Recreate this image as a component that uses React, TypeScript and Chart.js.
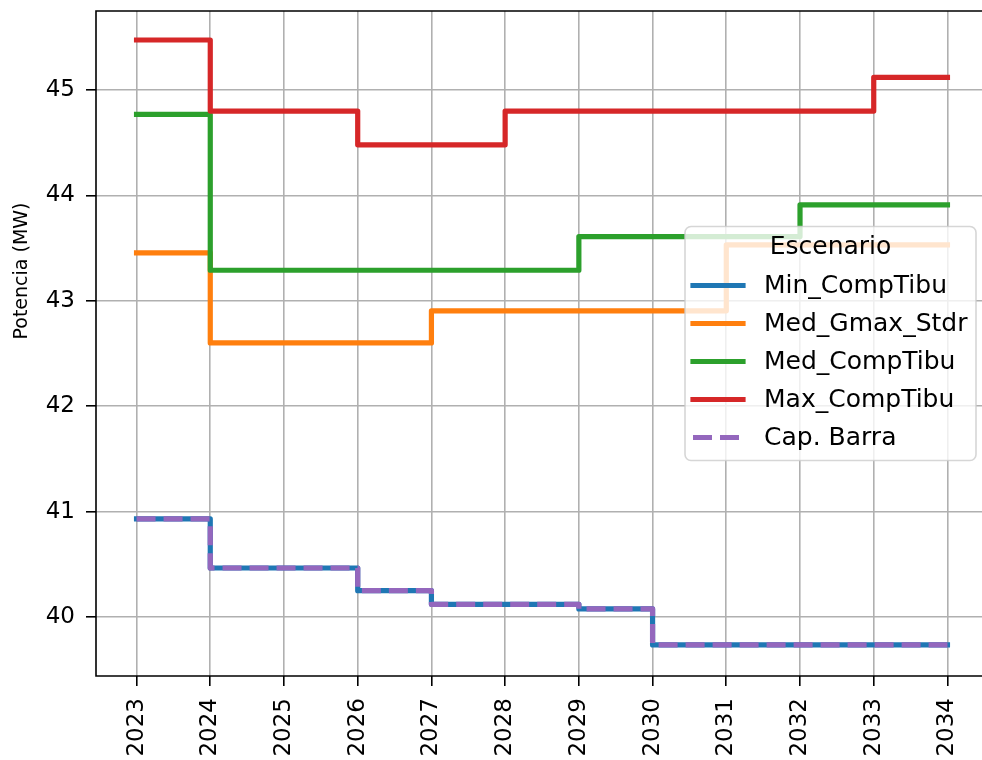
import React, { useEffect, useRef } from "react";
import { Chart, registerables } from "chart.js";

Chart.register(...registerables);

// Years on the x axis
const years = [2023, 2024, 2025, 2026, 2027, 2028, 2029, 2030, 2031, 2032, 2033, 2034];

// Power per scenario (MW), held constant until the next year (step "post")
const minCompTibu = [40.93, 40.465, 40.465, 40.25, 40.12, 40.12, 40.076, 39.735, 39.735, 39.735, 39.735, 39.735];
const medGmaxStdr = [43.455, 42.6, 42.6, 42.6, 42.905, 42.905, 42.905, 42.905, 43.53, 43.53, 43.53, 43.53];
const medCompTibu = [44.77, 43.29, 43.29, 43.29, 43.29, 43.29, 43.61, 43.61, 43.61, 43.91, 43.91, 43.91];
const maxCompTibu = [45.475, 44.8, 44.8, 44.48, 44.48, 44.8, 44.8, 44.8, 44.8, 44.8, 45.12, 45.12];
const capBarra = [40.93, 40.465, 40.465, 40.25, 40.12, 40.12, 40.076, 39.735, 39.735, 39.735, 39.735, 39.735];

const seriesNames = ["Min_CompTibu", "Med_Gmax_Stdr", "Med_CompTibu", "Max_CompTibu", "Cap. Barra"];
const seriesColors = ["#1f77b4", "#ff7f0e", "#2ca02c", "#d62728", "#9467bd"];
const yTicks = [40, 41, 42, 43, 44, 45];
const legendTitle = "Escenario";
const yAxisLabel = "Potencia (MW)";

const FONT = '"DejaVu Sans", Verdana, sans-serif';
const LINE_W = 5.2;
const DASH = [19, 8];

const toPoints = (vals: number[]) => years.map((x, i) => ({ x, y: vals[i] }));

const framePlugin = {
  id: "frameLegendLabel",
  afterDatasetsDraw(chart: any) {
    const { ctx, chartArea: ca } = chart;
    ctx.save();
    // axes frame (left, top and bottom spines; the right one lies past the page edge)
    ctx.strokeStyle = "#000";
    ctx.lineWidth = 1.6;
    ctx.beginPath();
    ctx.moveTo(ca.right + 2, ca.top);
    ctx.lineTo(ca.left, ca.top);
    ctx.lineTo(ca.left, ca.bottom);
    ctx.lineTo(ca.right + 2, ca.bottom);
    ctx.stroke();

    // legend box ("center right")
    const boxW = 291;
    const boxH = 234;
    const right = ca.right - 12;
    const left = right - boxW;
    const top = (ca.top + ca.bottom) / 2 - boxH / 2;
    ctx.globalAlpha = 0.8;
    ctx.beginPath();
    ctx.roundRect(left, top, boxW, boxH, 6);
    ctx.fillStyle = "#fff";
    ctx.fill();
    ctx.strokeStyle = "#cccccc";
    ctx.lineWidth = 1.6;
    ctx.stroke();
    ctx.globalAlpha = 1;

    ctx.font = `25px ${FONT}`;
    ctx.fillStyle = "#000";
    ctx.textBaseline = "middle";
    ctx.textAlign = "center";
    ctx.fillText(legendTitle, left + boxW / 2, top + 21);

    ctx.textAlign = "left";
    chart.data.datasets.forEach((ds: any, i: number) => {
      const y = top + 59 + i * 38;
      ctx.beginPath();
      ctx.strokeStyle = ds.borderColor;
      ctx.lineWidth = LINE_W;
      ctx.lineCap = ds.borderDash && ds.borderDash.length ? "butt" : "square";
      ctx.setLineDash(ds.borderDash || []);
      ctx.moveTo(left + 8, y);
      ctx.lineTo(left + 58, y);
      ctx.stroke();
      ctx.setLineDash([]);
      ctx.fillStyle = "#000";
      ctx.fillText(ds.label, left + 79, y + 1);
    });

    // y axis label
    ctx.translate(22, 271);
    ctx.rotate(-Math.PI / 2);
    ctx.font = `19px ${FONT}`;
    ctx.textAlign = "center";
    ctx.textBaseline = "middle";
    ctx.fillStyle = "#000";
    ctx.fillText(yAxisLabel, 0, 0);
    ctx.restore();
  },
};

const gridStyle = {
  color: "#b0b0b0",
  lineWidth: 1.6,
  drawTicks: true,
  tickLength: 10,
  tickColor: "#000",
  tickWidth: 1.6,
};

export default function App() {
  const canvasRef = useRef<HTMLCanvasElement | null>(null);

  useEffect(() => {
    if (!canvasRef.current) return;
    const all = [minCompTibu, medGmaxStdr, medCompTibu, maxCompTibu, capBarra];
    const chart = new Chart(canvasRef.current, {
      type: "line",
      data: {
        datasets: all.map((vals, i) => ({
          label: seriesNames[i],
          data: toPoints(vals),
          borderColor: seriesColors[i],
          backgroundColor: seriesColors[i],
          borderWidth: LINE_W,
          borderDash: i === 4 ? DASH : [],
          borderCapStyle: i === 4 ? "butt" : "square",
          borderJoinStyle: "round",
          stepped: "before",
          pointRadius: 0,
          fill: false,
          order: all.length - i,
        })),
      },
      options: {
        animation: false,
        responsive: false,
        maintainAspectRatio: false,
        devicePixelRatio: 1,
        layout: { padding: { top: 11, right: 12, left: 0, bottom: 0 } },
        plugins: { legend: { display: false }, tooltip: { enabled: false } },
        scales: {
          x: {
            type: "linear",
            min: 2022.45,
            max: 2034.55,
            afterBuildTicks: (s: any) => {
              s.ticks = years.map((v) => ({ value: v }));
            },
            afterFit: (s: any) => {
              s.height = 84;
              s.paddingLeft = 0;
              s.paddingRight = 0;
            },
            ticks: {
              autoSkip: false,
              minRotation: 90,
              maxRotation: 90,
              padding: 12,
              color: "#000",
              font: { family: FONT, size: 23 },
              callback: (v: any) => String(v),
            },
            grid: gridStyle,
            border: { display: false },
          },
          y: {
            type: "linear",
            min: 39.44,
            max: 45.75,
            afterBuildTicks: (s: any) => {
              s.ticks = yTicks.map((v) => ({ value: v }));
            },
            afterFit: (s: any) => {
              s.width = 96;
              s.paddingTop = 0;
              s.paddingBottom = 0;
            },
            ticks: {
              padding: 11,
              color: "#000",
              font: { family: FONT, size: 23 },
              callback: (v: any) => String(v),
            },
            grid: gridStyle,
            border: { display: false },
          },
        },
      },
      plugins: [framePlugin],
    } as any);
    return () => chart.destroy();
  }, []);

  return (
    <div
      style={{
        position: "absolute",
        left: 0,
        top: 0,
        width: 982,
        height: 760,
        overflow: "hidden",
        background: "#fff",
      }}
    >
      <canvas ref={canvasRef} width={1000} height={760} style={{ display: "block" }} />
    </div>
  );
}
